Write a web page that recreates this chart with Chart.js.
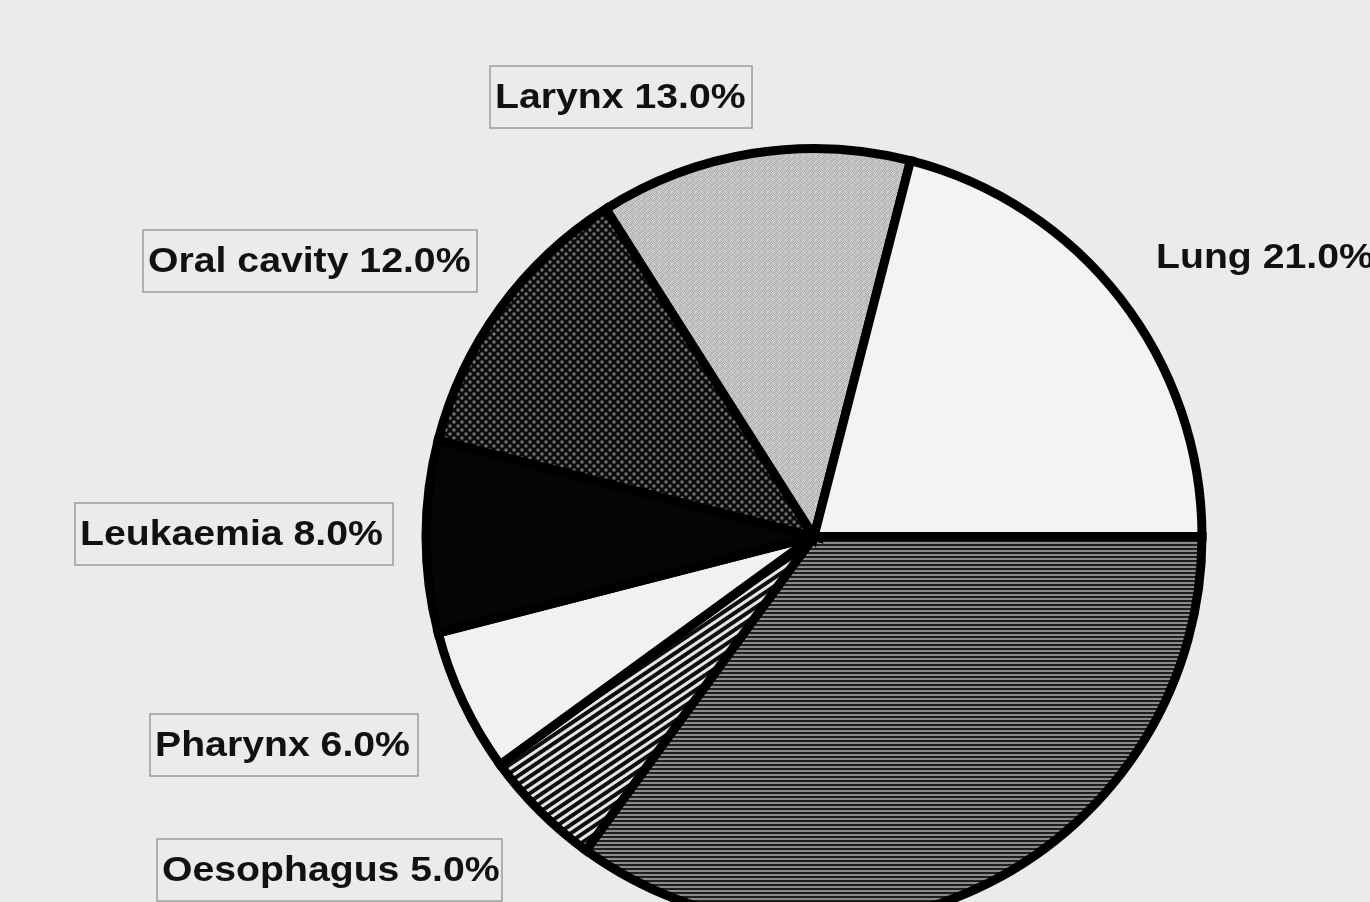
<!DOCTYPE html>
<html>
<head>
<meta charset="utf-8">
<script src="https://cdn.jsdelivr.net/npm/chart.js@4.4.1/dist/chart.umd.min.js"></script>
<style>
  html, body { margin: 0; padding: 0; background: #ebebeb; overflow: hidden; }
  #wrap { width: 1370px; height: 960px; }
</style>
</head>
<body>
<div id="wrap"><canvas id="pieChart" width="1370" height="960"></canvas></div>
<script>
// data, clockwise starting at 3 o'clock
const sites = ['Other', 'Oesophagus', 'Pharynx', 'Leukaemia', 'Oral cavity', 'Larynx', 'Lung'];
const shares = [35, 5, 6, 8, 12, 13, 21];

// where each label box sits (left x, centre y, box width) - layout only
const labelLayout = {
    'Larynx':      { x: 495, y: 97,  w: 262, box: true },
    'Oral cavity': { x: 148, y: 261, w: 334, box: true },
    'Lung':        { x: 1156, y: 257, w: 230, box: false },
    'Leukaemia':   { x: 80,  y: 534, w: 318, box: true },
    'Pharynx':     { x: 155, y: 745, w: 268, box: true },
    'Oesophagus':  { x: 162, y: 870, w: 345, box: true }
};

function tile(w, h, draw) {
    const c = document.createElement('canvas');
    c.width = w; c.height = h;
    draw(c.getContext('2d'));
    return c;
}
const pctx = document.createElement('canvas').getContext('2d');

// horizontal line hatching
const hLines = pctx.createPattern(tile(4, 4, g => {
    g.fillStyle = '#8a8a8a'; g.fillRect(0, 0, 4, 4);
    g.fillStyle = '#1e1e1e'; g.fillRect(0, 0, 4, 2);
}), 'repeat');

// diagonal hatching
const dLines = pctx.createPattern(tile(7, 7, g => {
    g.fillStyle = '#e6e6e6'; g.fillRect(0, 0, 7, 7);
    g.fillStyle = '#0e0e0e'; g.fillRect(0, 0, 7, 4);
}), 'repeat');
dLines.setTransform(new DOMMatrix().rotate(-34));

// black with grey dots
const dots = pctx.createPattern(tile(8, 8, g => {
    g.fillStyle = '#0c0c0c'; g.fillRect(0, 0, 8, 8);
    g.fillStyle = '#767676';
    [[2, 2], [6, 6]].forEach(p => { g.beginPath(); g.arc(p[0], p[1], 1.7, 0, Math.PI * 2); g.fill(); });
}), 'repeat');

// light grey stipple
const stippleShades = [
    ['#b4b4b4', '#cfcfcf', '#a8a8a8', '#c6c6c6', '#bdbdbd', '#d4d4d4'],
    ['#d0d0d0', '#acacac', '#c8c8c8', '#b0b0b0', '#d6d6d6', '#b8b8b8'],
    ['#a6a6a6', '#c4c4c4', '#d2d2d2', '#bababa', '#aaaaaa', '#cccccc'],
    ['#cacaca', '#b6b6b6', '#aeaeae', '#d8d8d8', '#c2c2c2', '#b2b2b2'],
    ['#bebebe', '#d4d4d4', '#bcbcbc', '#a9a9a9', '#cdcdcd', '#c0c0c0'],
    ['#d3d3d3', '#a4a4a4', '#c9c9c9', '#c1c1c1', '#b3b3b3', '#d0d0d0']
];
const stipple = pctx.createPattern(tile(6, 6, g => {
    stippleShades.forEach((row, y) => row.forEach((c, x) => { g.fillStyle = c; g.fillRect(x, y, 1, 1); }));
}), 'repeat');

const fills = [hLines, dLines, '#f1f1f1', '#050505', dots, stipple, '#f3f3f3'];

// boxed labels like the original figure
const boxLabels = {
    id: 'boxLabels',
    afterDraw(chart) {
        const ctx = chart.ctx;
        ctx.save();
        sites.forEach((name, i) => {
            const pos = labelLayout[name];
            if (!pos) return;
            const text = name + ' ' + shares[i].toFixed(1) + '%';
            if (pos.box) {
                ctx.strokeStyle = '#9c9c9c';
                ctx.lineWidth = 1.5;
                ctx.strokeRect(pos.x - 5, pos.y - 31, pos.w, 62);
            }
            ctx.save();
            ctx.translate(pos.x, pos.y);
            ctx.scale(1.12, 1);
            ctx.font = 'bold 35px "Liberation Sans", Arial, sans-serif';
            ctx.fillStyle = '#111';
            ctx.textBaseline = 'middle';
            ctx.textAlign = 'left';
            ctx.fillText(text, 0, 1);
            ctx.restore();
        });
        ctx.restore();
    }
};

new Chart(document.getElementById('pieChart'), {
    type: 'pie',
    data: {
        labels: sites,
        datasets: [{
            data: shares,
            backgroundColor: fills,
            borderColor: '#000',
            borderWidth: 9,
            borderJoinStyle: 'miter'
        }]
    },
    options: {
        responsive: false,
        animation: false,
        rotation: 90,
        layout: { padding: { left: 421, top: 144, right: 163, bottom: 31 } },
        plugins: {
            legend: { display: false },
            tooltip: { enabled: false }
        }
    },
    plugins: [boxLabels]
});
</script>
</body>
</html>
